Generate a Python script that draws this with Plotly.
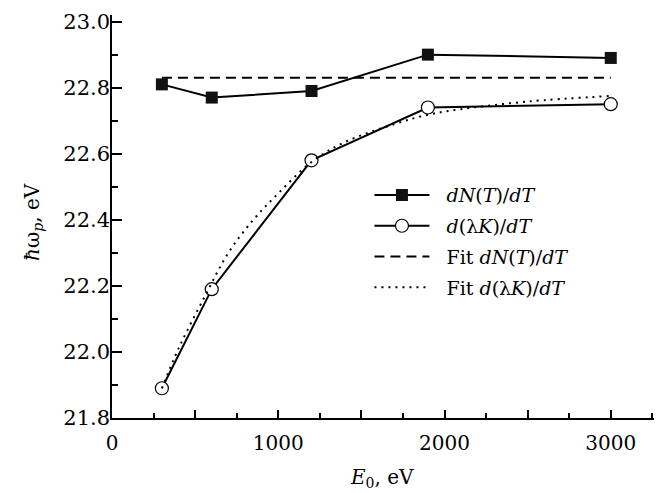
import plotly.graph_objects as go

# Data
energy = [300, 600, 1200, 1900, 3000]
dN_dT = [22.81, 22.77, 22.79, 22.90, 22.89]
dlK_dT = [21.89, 22.19, 22.58, 22.74, 22.75]
fit_dN_x = [300, 3000]
fit_dN_y = [22.83, 22.83]
fit_lK_x = [300, 400, 550, 700, 850, 1000, 1200, 1400, 1700, 1900, 2100, 2500, 3000]
fit_lK_y = [21.89, 22.01, 22.16, 22.30, 22.40, 22.48, 22.575, 22.635, 22.69, 22.718, 22.735, 22.758, 22.775]

x_tickvals = [0, 500, 1000, 1500, 2000, 2500, 3000]
x_ticktext = ["0", "", "1000", "", "2000", "", "3000"]
y_tickvals = [21.8, 22.0, 22.2, 22.4, 22.6, 22.8, 23.0]
y_ticktext = ["21.8", "22.0", "22.2", "22.4", "22.6", "22.8", "23.0"]

FONT = "DejaVu Serif"
SP = "\u00a0\u00a0"

fig = go.Figure()
fig.add_trace(go.Scatter(
    x=energy, y=dN_dT, mode="lines+markers", name=SP + "<i>dN</i>(<i>T</i>)/<i>dT</i>",
    line=dict(color="black", width=2),
    marker=dict(symbol="square", size=12, color="#111111", line=dict(width=0)),
    legendgroup="a"))
fig.add_trace(go.Scatter(
    x=energy, y=dlK_dT, mode="lines+markers", name=SP + "<i>d</i>(λ<i>K</i>)/<i>dT</i>",
    line=dict(color="black", width=2),
    marker=dict(symbol="circle", size=13, color="white", line=dict(width=1.2, color="black")),
    legendgroup="b"))
fig.add_trace(go.Scatter(
    x=fit_dN_x, y=fit_dN_y, mode="lines", name=SP + "Fit <i>dN</i>(<i>T</i>)/<i>dT</i>",
    line=dict(color="black", width=2, dash="10px,6px"),
    legendgroup="c"))
fig.add_trace(go.Scatter(
    x=fit_lK_x, y=fit_lK_y, mode="lines", name=SP + "Fit <i>d</i>(λ<i>K</i>)/<i>dT</i>",
    line=dict(color="black", width=2, dash="2px,5px", shape="spline"),
    legendgroup="d"))

fig.update_layout(
    width=656, height=493,
    margin=dict(l=112, r=2, t=15, b=75),
    plot_bgcolor="white", paper_bgcolor="white",
    font=dict(family=FONT, size=20, color="black"),
    showlegend=True,
    legend=dict(x=0.475, y=0.6, xanchor="left", yanchor="top",
                font=dict(family=FONT, size=19, color="black"),
                bgcolor="rgba(0,0,0,0)", traceorder="grouped",
                tracegroupgap=3, itemwidth=55),
    xaxis=dict(range=[0, 3260], showline=True, linecolor="black", linewidth=1.5,
               showgrid=False, zeroline=False, ticks="inside", ticklen=8,
               tickwidth=1.5, tickcolor="black", automargin=False,
               ticklabelstandoff=6,
               tickmode="array", tickvals=x_tickvals, ticktext=x_ticktext,
               tickfont=dict(family=FONT, size=20, color="black"),
               minor=dict(dtick=250, ticks="inside", ticklen=5, tickwidth=1.5,
                          tickcolor="black", showgrid=False)),
    yaxis=dict(range=[21.8, 23.02], showline=True, linecolor="black", linewidth=1.5,
               showgrid=False, zeroline=False, ticks="inside", ticklen=10,
               tickwidth=1.5, tickcolor="black", automargin=False,
               ticklabelstandoff=-4,
               tickmode="array", tickvals=y_tickvals, ticktext=y_ticktext,
               tickfont=dict(family=FONT, size=21, color="black"),
               minor=dict(dtick=0.1, ticks="inside", ticklen=6, tickwidth=1.5,
                          tickcolor="black", showgrid=False)),
    annotations=[
        dict(text="<i>E</i><sub>0</sub>, eV", xref="paper", yref="paper",
             x=0.498, y=-0.112, xanchor="center", yanchor="top", showarrow=False,
             font=dict(family=FONT, size=20, color="black")),
        dict(text="<i>ħ</i>ω<sub><i>p</i></sub>, eV", xref="paper", yref="paper",
             x=-0.146, y=0.486, xanchor="center", yanchor="middle", textangle=-90,
             showarrow=False, font=dict(family=FONT, size=20, color="black")),
    ],
)

fig.write_html("out.html", config={"displayModeBar": False},
               post_script="document.body.style.margin='0';document.body.style.padding='0';")
